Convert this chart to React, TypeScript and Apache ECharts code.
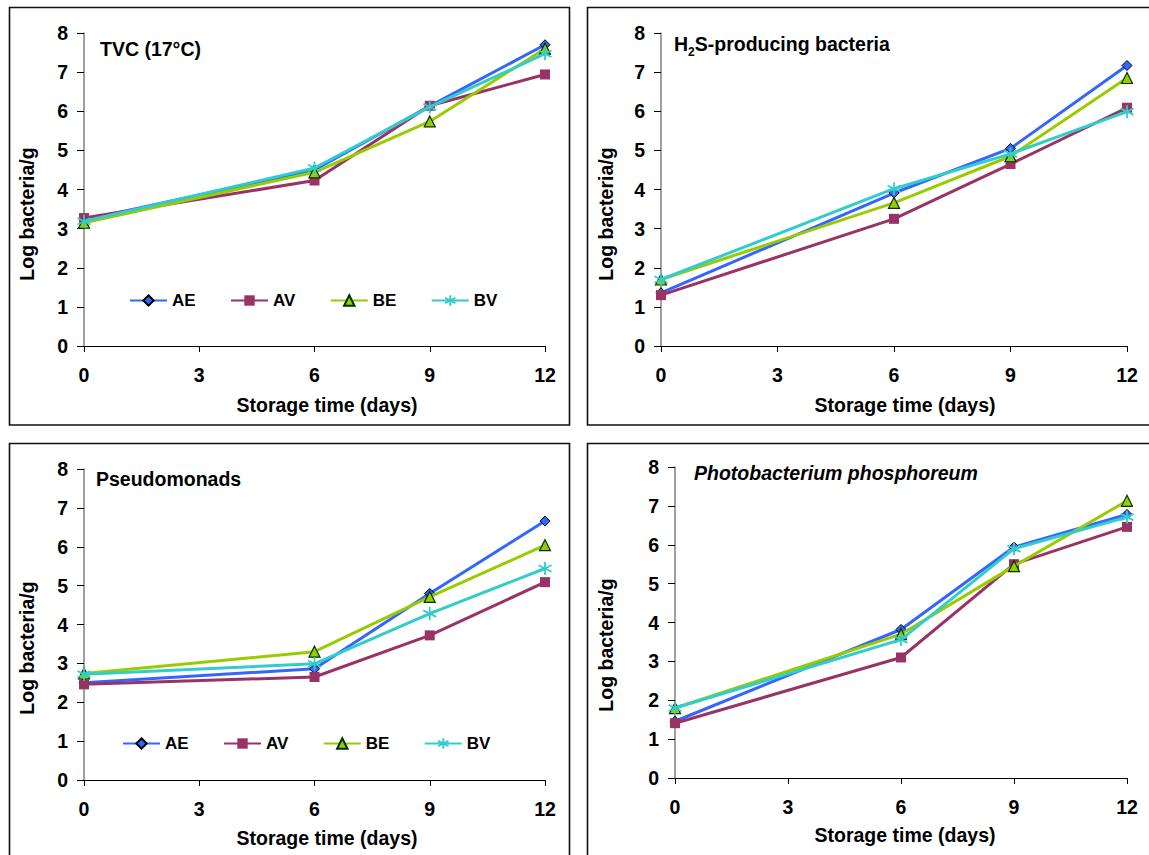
import React, { useEffect, useRef } from "react";
import * as echarts from "echarts";

const days = [0, 6, 9, 12];
const seriesNames = ["AE", "AV", "BE", "BV"];
const xTicks = [0, 3, 6, 9, 12];

// Panel 1: TVC (17°C)
const tvcAE = [3.22, 4.5, 6.13, 7.7];
const tvcAV = [3.27, 4.23, 6.14, 6.94];
const tvcBE = [3.15, 4.44, 5.74, 7.6];
const tvcBV = [3.19, 4.55, 6.11, 7.47];

// Panel 2: H2S-producing bacteria
const h2sAE = [1.36, 3.91, 5.05, 7.17];
const h2sAV = [1.3, 3.25, 4.65, 6.09];
const h2sBE = [1.7, 3.66, 4.85, 6.85];
const h2sBV = [1.7, 4.02, 4.91, 5.99];

// Panel 3: Pseudomonads
const psAE = [2.5, 2.86, 4.8, 6.66];
const psAV = [2.46, 2.65, 3.72, 5.09];
const psBE = [2.74, 3.3, 4.71, 6.04];
const psBV = [2.72, 2.99, 4.28, 5.44];

// Panel 4: Photobacterium phosphoreum
const ppAE = [1.46, 3.82, 5.94, 6.78];
const ppAV = [1.41, 3.1, 5.5, 6.46];
const ppBE = [1.8, 3.7, 5.45, 7.13];
const ppBV = [1.8, 3.56, 5.9, 6.71];

const panels = [
  [tvcAE, tvcAV, tvcBE, tvcBV],
  [h2sAE, h2sAV, h2sBE, h2sBV],
  [psAE, psAV, psBE, psBV],
  [ppAE, ppAV, ppBE, ppBV],
];

const FONT = "'Liberation Sans', Arial, sans-serif";
const ASTERISK = "path://M5,0 L5,10 M0.7,2.5 L9.3,7.5 M0.7,7.5 L9.3,2.5";

const styles = [
  { color: "#3366FF", symbol: "diamond", size: 10, fill: "#3366FF", border: "#000000", bw: 1 },
  { color: "#993366", symbol: "rect", size: 10, fill: "#993366", border: "#993366", bw: 0 },
  { color: "#99CC00", symbol: "triangle", size: 11, fill: "#99CC00", border: "#003300", bw: 1.2 },
  { color: "#33CCCC", symbol: ASTERISK, size: 13, fill: "#33CCCC", border: "#33CCCC", bw: 1.8 },
];

const grids = [
  { left: 84, top: 33, width: 461, height: 313 },
  { left: 661, top: 33, width: 466, height: 313 },
  { left: 84, top: 469, width: 461, height: 311 },
  { left: 675, top: 467, width: 452, height: 311 },
];

// positions of the axis titles (centres)
const yTitlePos = [
  [27, 214],
  [606, 214],
  [27, 648],
  [606, 645],
];
const xTitlePos = [
  [327, 405],
  [905, 405],
  [327, 838],
  [905, 835],
];

export default function App() {
  const ref = useRef<HTMLDivElement>(null);
  useEffect(() => {
    if (!ref.current) return;
    const chart = echarts.init(ref.current, null, { renderer: "svg" });
    const xAxis = grids.map((_, i) => ({
      type: "value",
      gridIndex: i,
      min: 0,
      max: 12,
      interval: 3,
      axisLine: { lineStyle: { color: "#000", width: 1 } },
      axisTick: { show: true, length: 6, lineStyle: { color: "#000" } },
      axisLabel: {
        fontFamily: FONT,
        fontWeight: "bold",
        fontSize: 19.5,
        color: "#000",
        margin: 19,
        formatter: (v: number) => (xTicks.includes(v) ? String(v) : ""),
      },
      splitLine: { show: false },
    }));
    const yAxis = grids.map((_, i) => ({
      type: "value",
      gridIndex: i,
      min: 0,
      max: 8,
      interval: 1,
      axisLine: { show: true, lineStyle: { color: "#808080", width: 1.5 } },
      axisTick: { show: true, length: 7, lineStyle: { color: "#000" } },
      axisLabel: { fontFamily: FONT, fontWeight: "bold", fontSize: 19.5, color: "#000", margin: 16 },
      splitLine: { show: false },
    }));
    const series: any[] = [];
    panels.forEach((panel, pi) => {
      panel.forEach((vals, si) => {
        const s = styles[si];
        series.push({
          type: "line",
          name: seriesNames[si],
          xAxisIndex: pi,
          yAxisIndex: pi,
          data: days.map((d, k) => [d, vals[k]]),
          symbol: s.symbol,
          symbolSize: s.size,
          showSymbol: true,
          lineStyle: { color: s.color, width: 3 },
          itemStyle: { color: s.fill, borderColor: s.border, borderWidth: s.bw },
          z: 2 + si,
        });
      });
    });
    const legendBase = {
      data: seriesNames,
      orient: "horizontal",
      padding: 0,
      itemWidth: 37,
      itemHeight: 13,
      itemGap: 34.4,
      selectedMode: false,
      textStyle: { fontFamily: FONT, fontWeight: "bold", fontSize: 17, color: "#000" },
    };
    const frame = (x: number, y: number, w: number, h: number) => ({
      type: "rect",
      shape: { x, y, width: w, height: h },
      style: { fill: "none", stroke: "#111", lineWidth: 1.6 },
      silent: true,
    });
    const titleFont = `bold 19.5px ${FONT}`;
    const texts: any[] = [];
    yTitlePos.forEach(([x, y]) => {
      texts.push({
        type: "text",
        x,
        y,
        rotation: Math.PI / 2,
        style: {
          text: "Log bacteria/g",
          font: titleFont,
          fill: "#000",
          align: "center",
          verticalAlign: "middle",
        },
      });
    });
    xTitlePos.forEach(([x, y]) => {
      texts.push({
        type: "text",
        x,
        y,
        style: {
          text: "Storage time (days)",
          font: titleFont,
          fill: "#000",
          align: "center",
          verticalAlign: "middle",
        },
      });
    });
    const option = {
      animation: false,
      backgroundColor: "#fff",
      grid: grids.map((g) => ({ ...g, containLabel: false })),
      xAxis,
      yAxis,
      series,
      legend: [
        { ...legendBase, left: 129, top: 292 },
        { ...legendBase, left: 122, top: 735 },
      ],
      graphic: [
        frame(9.5, 7.5, 560, 417.5),
        frame(587.5, 7.5, 570, 417.5),
        frame(9.5, 443.5, 560, 420),
        frame(587.5, 443.5, 570, 420),
        ...texts,
        {
          type: "text",
          x: 100,
          y: 49,
          style: { text: "TVC (17°C)", font: titleFont, fill: "#000", verticalAlign: "middle" },
        },
        {
          type: "text",
          x: 674,
          y: 43,
          style: {
            text: "{a|H}{s|2}{a|S-producing bacteria}",
            verticalAlign: "middle",
            rich: {
              a: { font: titleFont, fill: "#000", lineHeight: 22, verticalAlign: "bottom" },
              s: {
                font: `bold 12px ${FONT}`,
                fill: "#000",
                lineHeight: 22,
                verticalAlign: "bottom",
                padding: [0, 0, -4, 0],
              },
            },
          },
        },
        {
          type: "text",
          x: 96,
          y: 479,
          style: { text: "Pseudomonads", font: titleFont, fill: "#000", verticalAlign: "middle" },
        },
        {
          type: "text",
          x: 694,
          y: 473,
          style: {
            text: "Photobacterium phosphoreum",
            font: `italic bold 19.5px ${FONT}`,
            fill: "#000",
            verticalAlign: "middle",
          },
        },
      ],
    };
    chart.setOption(option as any);
    return () => chart.dispose();
  }, []);
  return (
    <div
      ref={ref}
      style={{ position: "fixed", left: 0, top: 0, width: 1149, height: 855, background: "#fff" }}
    />
  );
}
